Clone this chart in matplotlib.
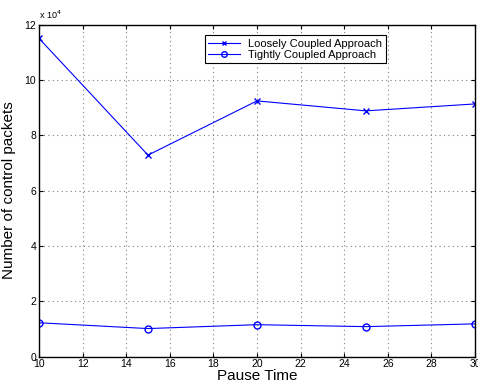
import matplotlib
matplotlib.use('Agg')
import matplotlib.pyplot as plt

plt.rcParams['font.family'] = ['Liberation Sans', 'DejaVu Sans']

pause_time = [10, 15, 20, 25, 30]
loosely = [11.5, 7.28, 9.24, 8.88, 9.13]   # x 10^4
tightly = [1.22, 1.01, 1.15, 1.08, 1.18]   # x 10^4

fig = plt.figure(figsize=(4.78, 3.86), dpi=100)
ax = fig.add_axes([0.0816, 0.0764, 0.912, 0.860])

ax.plot(pause_time, loosely, color='blue', marker='x', markersize=4, linewidth=0.8,
        label='Loosely Coupled Approach')
ax.plot(pause_time, tightly, color='blue', marker='o', markersize=5, markerfacecolor='none',
        linewidth=0.8, label='Tightly Coupled Approach')

ax.set_xlim(10, 30)
ax.set_ylim(0, 12)
ax.set_xticks(range(10, 31, 2))
ax.set_yticks(range(0, 13, 2))
ax.tick_params(direction='in', top=True, right=True, labelsize=7.5, length=3, pad=2)
ax.grid(True, linestyle=(0, (1, 3)), color='gray', linewidth=0.8)
for s in ax.spines.values():
    s.set_linewidth(1.0)

ax.set_xlabel('Pause Time', fontsize=11, labelpad=0)
ax.set_ylabel('Number of control packets', fontsize=11, labelpad=6)
ax.text(0.0, 1.012, r'x 10$^4$', transform=ax.transAxes, fontsize=6.5, ha='left', va='bottom')

leg = ax.legend(loc='upper left', bbox_to_anchor=(0.381, 0.968), borderaxespad=0,
                fontsize=8, fancybox=False, edgecolor='black', framealpha=1,
                borderpad=0.3, labelspacing=0.1, handlelength=2.8, markerscale=0.8)
leg.get_frame().set_linewidth(0.8)

plt.savefig('out.png', dpi=100)
